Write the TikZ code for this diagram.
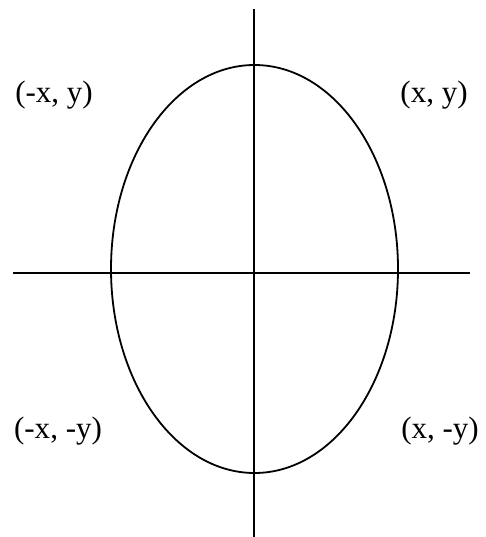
\documentclass[tikz,border=0pt]{standalone}
\usepackage{fontspec}
\setmainfont{Liberation Serif}
\usetikzlibrary{positioning}

\begin{document}
\begin{tikzpicture}[x=1pt, y=-1pt, semithick,
		quadlabel/.style={font=\fontsize{31}{34}\selectfont, inner sep=0pt}]
		
		\useasboundingbox (0,0) rectangle (486,537);
		
		\coordinate (Origin) at (254.5,269);
		\coordinate (AxisLeft) at (13,273);
		\coordinate (AxisRight) at (470,273);
		\coordinate (AxisTop) at (254,9);
		\coordinate (AxisBottom) at (254,537);
		
		\draw[line width=1.8pt] (Origin) ellipse [x radius=143.5, y radius=204];
		\draw[line width=2pt] (AxisLeft) -- (AxisRight);
		\draw[line width=2pt] (AxisTop) -- (AxisBottom);
		
		\node[quadlabel] (NegXPosY) at (54,95) {(-x, y)};
		\node[quadlabel] (PosXPosY) at (434,95) {(x, y)};
		\node[quadlabel] (NegXNegY) at (58,431) {(-x, -y)};
		\node[quadlabel] (PosXNegY) at (440,431) {(x, -y)};
		
	\end{tikzpicture}
\end{document}
